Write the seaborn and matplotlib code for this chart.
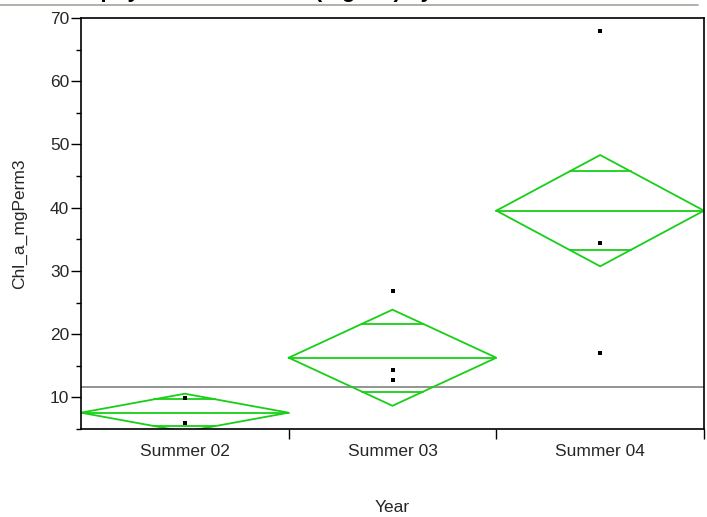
import numpy as np
import pandas as pd
import matplotlib
matplotlib.use("Agg")
import matplotlib.pyplot as plt
from matplotlib.lines import Line2D
from matplotlib.ticker import MultipleLocator
import seaborn as sns

# Observations per season
years = ["Summer 02", "Summer 03", "Summer 04"]
chl_summer02 = [9.85, 6.0]
chl_summer03 = [26.8, 14.37, 12.68]
chl_summer04 = [68.0, 34.36, 16.95]

# Means diamonds: group mean and 95% CI half-width
group_means = [7.58, 16.27, 39.53]
ci_half = [3.0, 7.6, 8.8]
grand_mean = 11.63

title_text = "Chlorophyll Concentration (mg/m3) by Year"
x_title = "Year"
y_title = "Chl_a_mgPerm3"

df = pd.DataFrame({
    "Year": [years[0]] * len(chl_summer02) + [years[1]] * len(chl_summer03) + [years[2]] * len(chl_summer04),
    "Chl": chl_summer02 + chl_summer03 + chl_summer04,
})

sns.set_theme(style="white")
plt.rcParams["font.family"] = ["Liberation Sans", "DejaVu Sans"]

W, H = 707, 517
fig = plt.figure(figsize=(W / 100, H / 100), dpi=100)
ax = fig.add_axes([81 / W, 1 - 429 / H, (704 - 81) / W, (429 - 18) / H])

green = "#18cf18"

# grand mean reference line
ax.axhline(grand_mean, color="#8a8a8a", lw=1.3, zorder=1)

# means diamonds with overlap marks
k = 1 - 1 / np.sqrt(2)
for i, (m, h) in enumerate(zip(group_means, ci_half)):
    xs = [i - 0.5, i, i + 0.5, i, i - 0.5]
    ys = [m, m + h, m, m - h, m]
    ax.plot(xs, ys, color=green, lw=1.3, zorder=2, solid_joinstyle="miter")
    ax.plot([i - 0.5, i + 0.5], [m, m], color=green, lw=1.3, zorder=2)
    for s in (1, -1):
        yy = m + s * h / np.sqrt(2)
        ax.plot([i - 0.5 * k, i + 0.5 * k], [yy, yy], color=green, lw=1.3, zorder=2)

sns.stripplot(data=df, x="Year", y="Chl", order=years, jitter=False,
              marker="s", size=3.4, color="black", linewidth=0, ax=ax, zorder=3)

ax.set_xlim(-0.5, 2.5)
ax.set_ylim(5, 70)

# y axis ticks
ax.yaxis.set_major_locator(MultipleLocator(10))
ax.yaxis.set_minor_locator(MultipleLocator(5))
ax.tick_params(axis="y", which="major", direction="out", length=7, width=1,
               color="black", labelsize=12.5, pad=1.5, left=True)
ax.tick_params(axis="y", which="minor", direction="out", length=3.5, width=1,
               color="black", left=True)

# x axis: boundary ticks, labels at centres
ax.set_xticks([0.5, 1.5, 2.5])
ax.set_xticklabels([])
ax.set_xticks([0, 1, 2], minor=True)
ax.set_xticklabels(years, minor=True)
ax.tick_params(axis="x", which="major", direction="out", length=7, width=1,
               color="black", bottom=True)
ax.tick_params(axis="x", which="minor", length=0, labelsize=12.5, pad=11)

ax.set_xlabel(x_title, fontsize=12.5, labelpad=29)
ax.set_ylabel(y_title, fontsize=12.5, labelpad=16)

for sp in ax.spines.values():
    sp.set_color("black")
    sp.set_linewidth(1.2)

# header: outline rule and (clipped) report title
fig.add_artist(Line2D([0, 698 / W], [1 - 5 / H, 1 - 5 / H], color="#a3a39b", lw=1.2))
fig.text(29 / W, 1 + 3.5 / H, title_text, fontsize=16, fontweight="bold",
         ha="left", va="baseline", color="black")

fig.savefig("out.png", dpi=100)
